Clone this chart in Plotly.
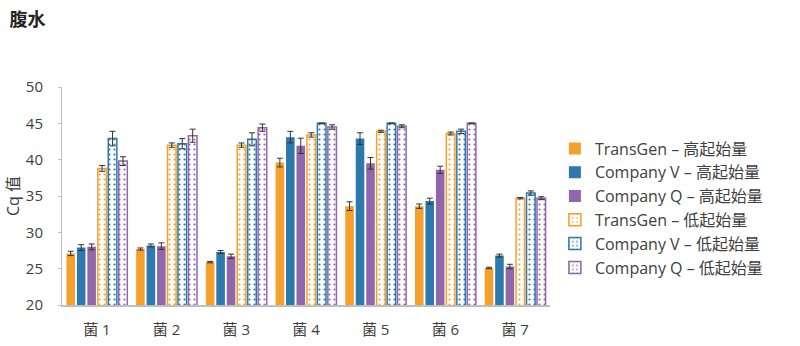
import plotly.graph_objects as go

categories = ["菌 1", "菌 2", "菌 3", "菌 4", "菌 5", "菌 6", "菌 7"]

series_names = [
    "TransGen – 高起始量",
    "Company V – 高起始量",
    "Company Q – 高起始量",
    "TransGen – 低起始量",
    "Company V – 低起始量",
    "Company Q – 低起始量",
]

transgen_high = [27.1, 27.7, 25.9, 39.6, 33.6, 33.6, 25.1]
companyv_high = [27.9, 28.2, 27.3, 43.1, 42.9, 34.3, 26.8]
companyq_high = [28.0, 28.1, 26.7, 41.9, 39.5, 38.6, 25.3]
transgen_low = [38.8, 42.0, 42.0, 43.4, 43.9, 43.6, 34.7]
companyv_low = [42.9, 42.2, 42.8, 45.0, 45.0, 43.9, 35.4]
companyq_low = [39.8, 43.3, 44.4, 44.5, 44.6, 45.0, 34.7]

transgen_high_err = [0.3, 0.15, 0.1, 0.6, 0.6, 0.3, 0.1]
companyv_high_err = [0.4, 0.2, 0.2, 0.8, 0.8, 0.4, 0.2]
companyq_high_err = [0.4, 0.45, 0.3, 1.05, 0.8, 0.5, 0.3]
transgen_low_err = [0.4, 0.3, 0.3, 0.3, 0.15, 0.2, 0.1]
companyv_low_err = [1.0, 0.7, 0.9, 0.05, 0.05, 0.3, 0.3]
companyq_low_err = [0.6, 0.9, 0.5, 0.3, 0.2, 0.05, 0.2]

values = [transgen_high, companyv_high, companyq_high, transgen_low, companyv_low, companyq_low]
errors = [transgen_high_err, companyv_high_err, companyq_high_err,
          transgen_low_err, companyv_low_err, companyq_low_err]

colors = ["#F5A02C", "#2D78AC", "#8F67AA", "#F5A02C", "#2D78AC", "#8F67AA"]
hollow = [False, False, False, True, True, True]

FONT = "Open Sans, Noto Sans CJK SC, sans-serif"

fig = go.Figure()
for name, vals, errs, col, hol in zip(series_names, values, errors, colors, hollow):
    if hol:
        marker = dict(
            color="white",
            line=dict(color=col, width=1.5),
            pattern=dict(shape=".", fgcolor=col, bgcolor="white", size=5, solidity=0.15, fillmode="replace"),
        )
    else:
        marker = dict(color=col, line=dict(color=col, width=0))
    fig.add_trace(go.Bar(
        x=categories, y=vals, name=name, marker=marker,
        error_y=dict(type="data", array=errs, visible=True, color="#333333", thickness=1, width=3),
    ))

fig.update_layout(
    width=800, height=346,
    margin=dict(l=62, r=250, t=87, b=41),
    paper_bgcolor="white", plot_bgcolor="white",
    barmode="group", bargap=0.1, bargroupgap=0.18,
    font=dict(family=FONT, size=14, color="#404040"),
    title=dict(text="<b>腹水</b>", x=0.012, xanchor="left", y=0.96, yanchor="top",
               font=dict(family="Noto Sans CJK SC, sans-serif", size=18, color="#222222")),
    legend=dict(x=1.01, xanchor="left", y=0.445, yanchor="middle",
                font=dict(size=16, color="#404040"), tracegroupgap=0,
                itemwidth=30, bgcolor="rgba(0,0,0,0)"),
    showlegend=True,
)
fig.update_yaxes(
    range=[20, 50], dtick=5, showgrid=False, zeroline=False,
    showline=True, linecolor="#BFBFBF", linewidth=1,
    ticks="outside", ticklen=3, tickcolor="#BFBFBF",
    ticklabelstandoff=12, automargin=False,
    title=dict(text="Cq 值", font=dict(size=16, color="#404040"), standoff=2),
    tickfont=dict(size=15, color="#404040"),
)
fig.update_xaxes(
    showgrid=False, showline=True, linecolor="#BFBFBF", linewidth=1.5,
    ticks="", ticklabelstandoff=10, automargin=False,
    tickfont=dict(size=15, color="#404040"),
)

fig.write_html("out.html")
